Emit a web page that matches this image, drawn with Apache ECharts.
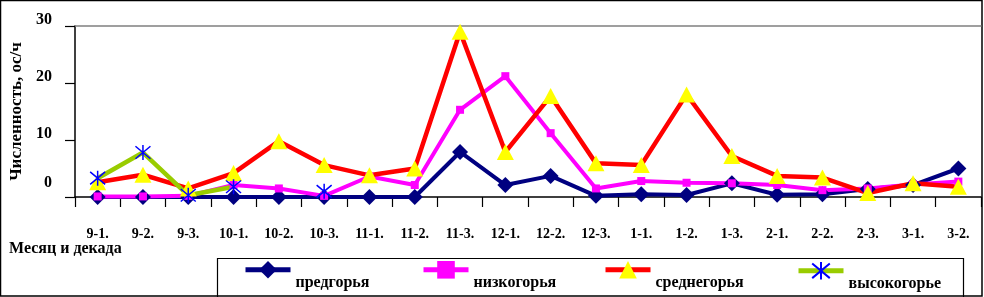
<!DOCTYPE html>
<html><head><meta charset="utf-8">
<script src="https://cdn.jsdelivr.net/npm/echarts@6/dist/echarts.min.js"></script>
<style>html,body{margin:0;padding:0;background:#fff}#c{width:984px;height:297px}</style>
</head><body><div id="c"></div>
<script>
const categories = ['9-1.','9-2.','9-3.','10-1.','10-2.','10-3.','11-1.','11-2.','11-3.','12-1.','12-2.','12-3.','1-1.','1-2.','1-3.','2-1.','2-2.','2-3.','3-1.','3-2.'];
const seriesNames = ['предгорья','низкогорья','среднегорья','высокогорье'];
const predgorya = [0,0,0,0,0,0,0,0,7.9,2.1,3.7,0.2,0.5,0.35,2.4,0.4,0.5,1.4,2.1,5.0];
const nizkogorya = [0.1,0.1,0.2,2.1,1.5,0.2,3.6,2.1,15.3,21.2,11.2,1.5,2.8,2.5,2.4,2.1,1.2,1.5,2.2,2.7];
const srednegorya = [2.6,3.9,1.5,4.2,9.8,5.6,3.8,5.0,29.0,7.9,17.7,5.9,5.6,18.0,7.2,3.7,3.4,0.7,2.4,1.8];
const vysokogorye = [3.3,7.8,0.3,1.8,null,1.0,null,null,null,null,null,null,null,null,null,null,null,null,null,null];
const yTicks = [0,10,20,30];

const serif = '"Liberation Serif","Times New Roman",serif';
const star = 'path://M0,0L10,10M10,0L0,10M5,-1L5,11';
const chart = echarts.init(document.getElementById('c'));
const legendLefts = [243,421,603,796];
chart.setOption({
  animation:false,
  backgroundColor:'#fff',
  title:{text:'Месяц и декада',left:4,top:236,textStyle:{fontFamily:serif,fontWeight:'bold',fontSize:16,color:'#000'}},
  grid:{left:75,top:26,right:3,bottom:100},
  legend: seriesNames.map((n,i)=>({
    data:[n],left:legendLefts[i],top:261,itemWidth:45,itemHeight:22,padding:0,itemGap:0,
    lineStyle:{width:5},
    formatter:'{a|{name}}',
    textStyle:{rich:{a:{fontFamily:serif,fontWeight:'bold',fontSize:16,color:'#000',padding:[26,0,0,0]}}}
  })),
  graphic:[
    {type:'rect',shape:{x:217.5,y:258.5,width:746,height:50},style:{fill:'none',stroke:'#000',lineWidth:1.2},z:-1},
    {type:'rect',shape:{x:0.5,y:0.5,width:981.5,height:295.5},style:{fill:'none',stroke:'#000',lineWidth:1.5}}
  ],
  xAxis:[{
    type:'category',data:categories,boundaryGap:true,
    axisLine:{lineStyle:{color:'#000',width:1.5}},
    axisTick:{show:true,length:10,inside:false,lineStyle:{color:'#000',width:1.2}},
    axisLabel:{fontFamily:serif,fontWeight:'bold',fontSize:14,color:'#000',margin:30,interval:0}
  },{
    type:'category',data:categories,position:'top',
    axisLine:{lineStyle:{color:'#808080',width:1.5}},axisTick:{show:false},axisLabel:{show:false}
  }],
  yAxis:{
    type:'value',min:0,max:30,interval:10,
    name:'Численность, ос/ч',nameLocation:'middle',nameGap:50,
    nameTextStyle:{fontFamily:serif,fontWeight:'bold',fontSize:17,color:'#000'},
    axisLine:{show:true,lineStyle:{color:'#000',width:1.5}},
    axisTick:{show:true,length:10,lineStyle:{color:'#000',width:1.2}},
    splitLine:{show:false},
    axisLabel:{margin:23,color:'#000',
      formatter:v=> yTicks.indexOf(v)===0 ? '{z|'+v+'}' : '{n|'+v+'}',
      rich:{
        n:{fontFamily:serif,fontWeight:'bold',fontSize:16,color:'#000',padding:[0,0,12,0]},
        z:{fontFamily:serif,fontWeight:'bold',fontSize:16,color:'#000',padding:[0,0,28,0]}
      }}
  },
  series:[
    {name:seriesNames[0],type:'line',data:predgorya,symbol:'diamond',symbolSize:16,
     lineStyle:{color:'#000080',width:4},itemStyle:{color:'#000080'}},
    {name:seriesNames[1],type:'line',data:nizkogorya,symbol:'rect',symbolSize:8,
     lineStyle:{color:'#FF00FF',width:4},itemStyle:{color:'#FF00FF'}},
    {name:seriesNames[2],type:'line',data:srednegorya,symbol:'triangle',symbolSize:[17,16],
     lineStyle:{color:'#FF0000',width:4.5},itemStyle:{color:'#FFFF00'}},
    {name:seriesNames[3],type:'line',data:vysokogorye,symbol:star,symbolSize:15,connectNulls:false,
     lineStyle:{color:'#99CC00',width:4.5},itemStyle:{color:'transparent',borderColor:'#0000FF',borderWidth:1.5}}
  ]
});
</script></body></html>
